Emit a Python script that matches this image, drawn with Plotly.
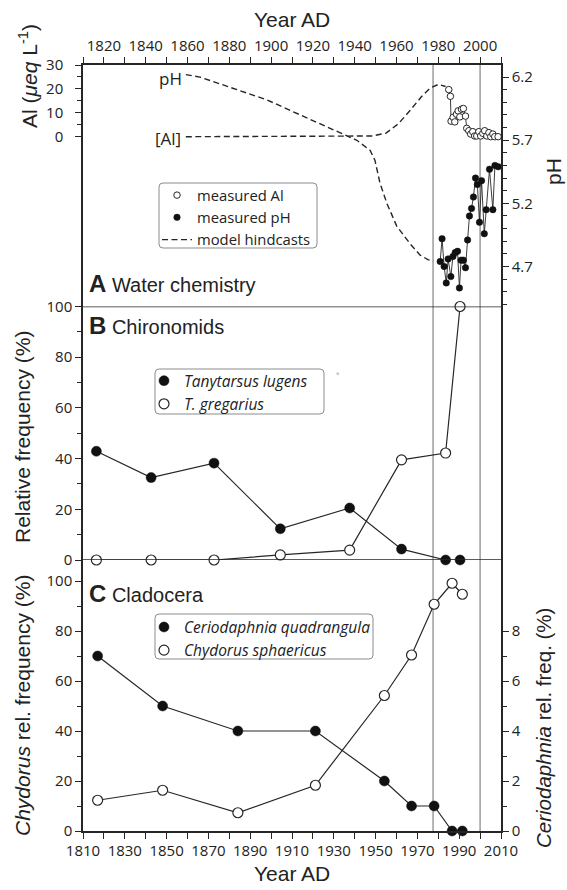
import plotly.graph_objects as go

# ---------------- data ----------------
# Panel A: measured lake chemistry
ph_years = [1980.9, 1981.8, 1982.8, 1983.8, 1984.7, 1986.0, 1987.0, 1988.1, 1989.2,
            1990.1, 1990.9, 1992.0, 1993.0, 1994.0, 1994.9, 1995.9, 1996.8, 1997.8,
            1998.7, 1999.7, 2000.7, 2002.0, 2002.9, 2004.5, 2006.1, 2007.1, 2008.7]
ph_values = [4.74, 4.92, 4.70, 4.57, 4.76, 4.62, 4.78, 4.81, 4.82,
             4.53, 4.75, 4.75, 4.69, 4.91, 5.10, 5.16, 5.25, 5.40,
             5.35, 5.05, 5.38, 4.96, 5.15, 5.47, 5.15, 5.50, 5.49]

al_years = [1985.0, 1985.8, 1986.1, 1987.1, 1987.9, 1988.7, 1989.5, 1990.3, 1991.1,
            1992.0, 1993.0, 1993.6, 1994.6, 1995.5, 1996.5, 1997.4, 1998.4, 1999.4,
            2000.3, 2001.3, 2002.2, 2003.2, 2004.2, 2005.1, 2006.1, 2007.0, 2008.6]
al_values = [19.7, 16.9, 6.5, 8.1, 6.2, 9.4, 10.8, 8.3, 11.5,
             11.8, 8.6, 3.5, 2.5, 1.1, 2.1, 0.3, 0.3, 2.1,
             0.3, 1.4, 2.5, 0.3, 1.7, 0.0, 1.1, 0.0, 0.0]

# Panel A: model hindcasts
hind_ph_years = [1859.2, 1866.0, 1882.0, 1898.0, 1914.0, 1930.0, 1941.0, 1947.4,
                 1949.7, 1952.1, 1955.4, 1960.1, 1966.5, 1971.3, 1975.0, 1977.5]
hind_ph_values = [6.22, 6.20, 6.11, 6.02, 5.90, 5.78, 5.70, 5.62,
                  5.54, 5.36, 5.20, 5.02, 4.88, 4.79, 4.755, 4.74]

hind_al_years = [1859.2, 1942.6, 1948.5, 1955.0, 1961.0, 1967.0, 1972.0, 1976.0,
                 1980.1, 1983.5]
hind_al_values = [0.0, 0.0, 0.3, 1.5, 5.5, 11.5, 16.8, 20.3, 21.9, 21.0]

# Panel B: chironomids
chiro_years = [1816.4, 1842.6, 1872.7, 1904.4, 1937.6, 1962.4, 1983.5, 1990.4]
tanytarsus_lugens = [42.9, 32.5, 38.2, 12.3, 20.5, 4.3, 0.0, 0.0]
t_gregarius = [0.0, 0.0, 0.0, 2.0, 3.9, 39.5, 42.2, 100.0]

# Panel C: cladocerans
clad_years = [1817.0, 1848.1, 1884.1, 1921.2, 1954.2, 1967.2, 1978.0, 1986.6, 1991.5]
ceriodaphnia = [7, 5, 4, 4, 2, 1, 1, 0, 0]
chydorus = [12.3, 16.3, 7.3, 18.3, 54.2, 70.4, 90.7, 99.1, 94.7]

# reference years marked by vertical lines
marker_years = [1977.5, 2000]

# tick labels
year_ticks = list(range(1810, 2011, 10))
top_labels = [str(y) if (y % 20 == 0 and 1820 <= y <= 2000) else "" for y in year_ticks]
bottom_labels = [str(y) if (y - 1810) % 20 == 0 else "" for y in year_ticks]
al_ticks = [0, 10, 20, 30]
ph_ticks = [4.7, 5.2, 5.7, 6.2]
ph_labels = ["4.7", "5.2", "5.7", "6.2"]
pct_ticks = [0, 20, 40, 60, 80, 100]
cerio_ticks = [0, 2, 4, 6, 8]

# ---------------- geometry (pixels) ----------------
FIG_W, FIG_H = 567, 890
L, R, T, B = 83, 501, 65, 831
PW, PH = R - L, B - T
Y_AB, Y_BC = 306.5, 560.0


def fx(px):
    return (px - L) / PW


def fy(py):
    return (B - py) / PH


dom_c = [0, fy(Y_BC)]
dom_b = [fy(Y_BC), fy(Y_AB)]
dom_a = [fy(Y_AB), 1]

INK = "#262626"
TICKFONT = dict(family="Open Sans", size=15, color="#222")
TITLEFONT = "Liberation Sans, Arial, sans-serif"
DASH = "6px,3.5px"

fig = go.Figure()

# ---- panel A ----
fig.add_trace(go.Scatter(x=hind_ph_years, y=hind_ph_values, xaxis="x2", yaxis="y4",
                         mode="lines", line=dict(color=INK, width=1.4, dash=DASH),
                         name="model hindcasts", legendgroup="hind", legendrank=3,
                         legend="legend", hoverinfo="skip"))
fig.add_trace(go.Scatter(x=hind_al_years, y=hind_al_values, xaxis="x2", yaxis="y3",
                         mode="lines", line=dict(color=INK, width=1.4, dash=DASH),
                         legendgroup="hind", showlegend=False, hoverinfo="skip"))
fig.add_trace(go.Scatter(x=al_years, y=al_values, xaxis="x2", yaxis="y3", mode="lines",
                         line=dict(color=INK, width=0.9), showlegend=False))
fig.add_trace(go.Scatter(x=ph_years, y=ph_values, xaxis="x2", yaxis="y4", mode="lines",
                         line=dict(color=INK, width=0.9), showlegend=False))
fig.add_trace(go.Scatter(x=al_years, y=al_values, xaxis="x2", yaxis="y3", mode="markers",
                         marker=dict(symbol="circle", size=6.5, color="white",
                                     line=dict(color=INK, width=1)),
                         name="measured Al", legendrank=1, legend="legend"))
fig.add_trace(go.Scatter(x=ph_years, y=ph_values, xaxis="x2", yaxis="y4", mode="markers",
                         marker=dict(symbol="circle", size=6.5, color="#111",
                                     line=dict(color="#111", width=0.5)),
                         name="measured pH", legendrank=2, legend="legend"))

# ---- panel B ----
fig.add_trace(go.Scatter(x=chiro_years, y=tanytarsus_lugens, xaxis="x", yaxis="y2",
                         mode="lines", line=dict(color=INK, width=1.2), showlegend=False))
fig.add_trace(go.Scatter(x=chiro_years, y=t_gregarius, xaxis="x", yaxis="y2",
                         mode="lines", line=dict(color=INK, width=1.2), showlegend=False))
fig.add_trace(go.Scatter(x=chiro_years, y=tanytarsus_lugens, xaxis="x", yaxis="y2",
                         mode="markers", cliponaxis=False,
                         marker=dict(symbol="circle", size=10, color="#111",
                                     line=dict(color="#111", width=0.5)),
                         name="<i>Tanytarsus lugens</i>", legend="legend2", legendrank=1))
fig.add_trace(go.Scatter(x=chiro_years, y=t_gregarius, xaxis="x", yaxis="y2",
                         mode="markers", cliponaxis=False,
                         marker=dict(symbol="circle", size=10, color="white",
                                     line=dict(color=INK, width=1.2)),
                         name="<i>T. gregarius</i>", legend="legend2", legendrank=2))

# ---- panel C ----
fig.add_trace(go.Scatter(x=clad_years, y=ceriodaphnia, xaxis="x", yaxis="y5",
                         mode="lines", line=dict(color=INK, width=1.2), showlegend=False))
fig.add_trace(go.Scatter(x=clad_years, y=chydorus, xaxis="x", yaxis="y",
                         mode="lines", line=dict(color=INK, width=1.2), showlegend=False))
fig.add_trace(go.Scatter(x=clad_years, y=ceriodaphnia, xaxis="x", yaxis="y5",
                         mode="markers", cliponaxis=False,
                         marker=dict(symbol="circle", size=10, color="#111",
                                     line=dict(color="#111", width=0.5)),
                         name="<i>Ceriodaphnia quadrangula</i>", legend="legend3", legendrank=1))
fig.add_trace(go.Scatter(x=clad_years, y=chydorus, xaxis="x", yaxis="y",
                         mode="markers", cliponaxis=False,
                         marker=dict(symbol="circle", size=10, color="white",
                                     line=dict(color=INK, width=1.2)),
                         name="<i>Chydorus sphaericus</i>", legend="legend3", legendrank=2))


def axis(**kw):
    base = dict(showline=True, linecolor=INK, linewidth=1.5, ticks="outside",
                tickcolor=INK, tickwidth=1.2, ticklen=6, showgrid=False,
                zeroline=False, tickfont=TICKFONT, tickmode="array")
    base.update(kw)
    return base


def minor(vals, length=4):
    return dict(tickvals=vals, ticklen=length, ticks="outside", tickcolor=INK, tickwidth=1.2)


ph_minor = [round(4.4 + 0.1 * i, 1) for i in range(20)]
ph_minor = [v for v in ph_minor if v not in ph_ticks]


def legend_style(size):
    return dict(xanchor="left", yanchor="top", bgcolor="rgba(0,0,0,0)", borderwidth=0,
                font=dict(family="Open Sans", size=size, color="#222"),
                itemwidth=30, tracegroupgap=0, traceorder="normal")


fig.update_layout(
    width=FIG_W, height=FIG_H,
    margin=dict(l=L, r=FIG_W - R, t=T, b=FIG_H - B, pad=0),
    paper_bgcolor="white", plot_bgcolor="white",
    xaxis=axis(domain=[0, 1], anchor="y", range=[1810, 2010],
               tickvals=year_ticks, ticktext=bottom_labels, ticklabelstandoff=-1),
    xaxis2=axis(domain=[0, 1], anchor="y3", side="top", range=[1810, 2010],
                tickvals=year_ticks, ticktext=top_labels),
    yaxis=axis(domain=dom_c, anchor="x", range=[0, 108.4], tickvals=pct_ticks,
               minor=minor([10, 30, 50, 70, 90])),
    yaxis5=axis(overlaying="y", side="right", anchor="x", range=[0, 10.84],
                tickvals=cerio_ticks, minor=minor([1, 3, 5, 7])),
    yaxis2=axis(domain=dom_b, anchor="x", range=[0, 100], tickvals=pct_ticks,
                mirror=True, minor=minor([10, 30, 50, 70, 90])),
    yaxis3=axis(domain=dom_a, anchor="x2", range=[-71.05, 30], tickvals=al_ticks,
                ticklabelstandoff=9, minor=minor([5, 15, 25])),
    yaxis4=axis(overlaying="y3", side="right", anchor="x2", range=[4.383, 6.296],
                tickvals=ph_ticks, ticktext=ph_labels, minor=minor(ph_minor)),
    legend=dict(x=fx(157), y=fy(179), **legend_style(14.8)),
    legend2=dict(x=fx(144), y=fy(364.1), **legend_style(15.5)),
    legend3=dict(x=fx(144), y=fy(610.4), **legend_style(15.5)),
    showlegend=True,
)


def rounded_box(x0, y0, x1, y1, r=4):
    X0, X1 = fx(x0), fx(x1)
    Y0, Y1 = fy(y0), fy(y1)
    rx, ry = r / PW, r / PH
    path = (f"M{X0 + rx},{Y0} L{X1 - rx},{Y0} Q{X1},{Y0} {X1},{Y0 - ry} "
            f"L{X1},{Y1 + ry} Q{X1},{Y1} {X1 - rx},{Y1} L{X0 + rx},{Y1} "
            f"Q{X0},{Y1} {X0},{Y1 + ry} L{X0},{Y0 - ry} Q{X0},{Y0} {X0 + rx},{Y0} Z")
    return dict(type="path", path=path, xref="paper", yref="paper",
                line=dict(color="#8c8c8c", width=1), fillcolor="white", layer="above")


shapes = []
for yr in marker_years:
    shapes.append(dict(type="line", xref="x", yref="paper", x0=yr, x1=yr, y0=0, y1=1,
                       line=dict(color="#9c9c9c", width=1.5), layer="below"))
for v in (0, 100):
    shapes.append(dict(type="line", xref="paper", yref="y2", x0=0, x1=1, y0=v, y1=v,
                       line=dict(color=INK, width=1.5), layer="above"))
shapes.append(rounded_box(159, 183, 317, 248))
shapes.append(rounded_box(155, 369, 324, 414))
shapes.append(rounded_box(155, 614, 373, 659))
fig.update_layout(shapes=shapes)


def note(text, px, py, size, angle=0, xanchor="center", color="#222", family=TITLEFONT):
    return dict(text=text, x=fx(px), y=fy(py), xref="paper", yref="paper",
                showarrow=False, textangle=angle, xanchor=xanchor, yanchor="middle",
                font=dict(family=family, size=size, color=color))


annotations = [
    note("Year AD", (L + R) / 2, 19, 21),
    note("Year AD", (L + R) / 2, 873, 21),
    note("Al (<i>μeq</i> L<sup>-1</sup>)", 28, 76, 21, angle=-90),
    note("pH", 553, 172, 21, angle=-90),
    note("Relative frequency (%)", 22, 437, 21, angle=-90),
    note("<i>Chydorus</i> rel. frequency (%)", 22, 706, 21, angle=-90),
    note("<i>Ceriodaphnia</i> rel. freq. (%)", 543, 728, 20.5, angle=-90),
    note("pH", 170, 78, 17, family="Open Sans"),
    note("[Al]", 168, 138, 17, family="Open Sans"),
    note("<b><span style='font-size:24px'>A</span></b> Water chemistry", 87, 283.5, 20, xanchor="left"),
    note("<b><span style='font-size:24px'>B</span></b> Chironomids", 87, 325, 20, xanchor="left"),
    note("<b><span style='font-size:24px'>C</span></b> Cladocera", 87, 593, 20, xanchor="left"),
    note("*", 338, 375, 9, color="#b0b0b0"),
]
fig.update_layout(annotations=annotations)

fig.write_html("out.html")
